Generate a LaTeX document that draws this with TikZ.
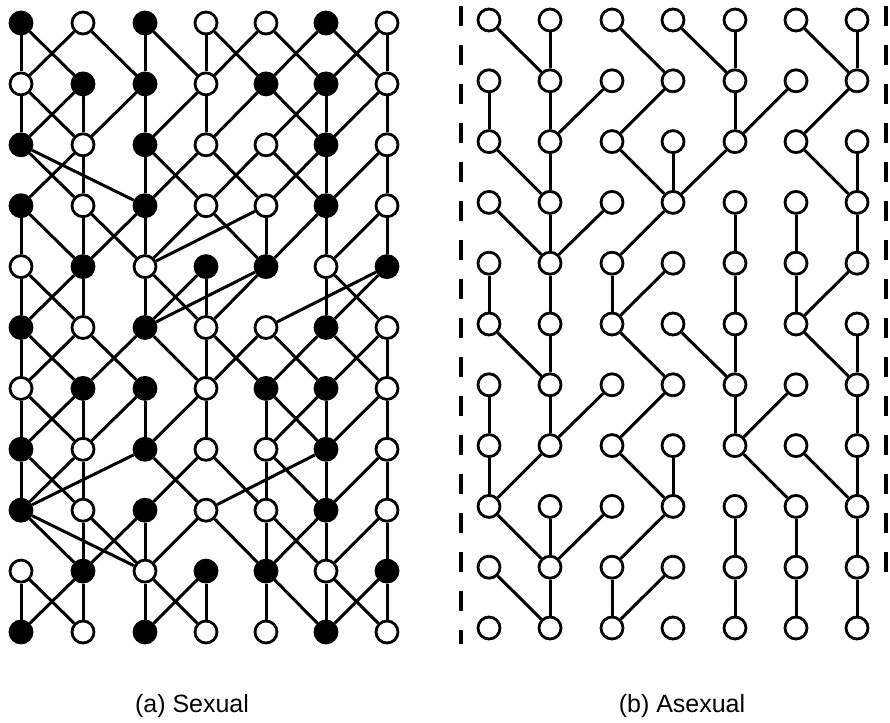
\documentclass[tikz,border=0pt]{standalone}
\usepackage{fontspec}
\setmainfont{Liberation Sans}
\begin{document}
\begin{tikzpicture}[x=1pt,y=-1pt,
  nB/.style={circle,draw=black,fill=black,line width=2.8pt,minimum size=22pt,inner sep=0pt},
  nW/.style={circle,draw=black,fill=white,line width=2.8pt,minimum size=22pt,inner sep=0pt},
  link/.style={line width=3pt},
  sep/.style={line width=3.2pt,dash pattern=on 20pt off 19pt},
  lab/.style={font=\fontsize{25}{30}\selectfont,anchor=base}]
\useasboundingbox (0,0) rectangle (890,722);
\def\LX{{21,83,145,206,266,326,387}}
\def\RX{{489,550,612,673,735,796,857}}
% left nodes
\foreach \r/\cols in {1/{B,W,B,W,W,B,W},2/{W,B,B,W,B,B,W},3/{B,W,B,W,W,B,W},4/{B,W,B,W,W,B,W},
  5/{W,B,W,B,B,W,B},6/{B,W,B,W,W,B,W},7/{W,B,B,W,B,B,W},8/{B,W,B,W,W,B,W},
  9/{B,W,B,W,W,B,W},10/{W,B,W,B,B,W,B},11/{B,W,B,W,W,B,W}}{
  \foreach \k [count=\c] in \cols {
    \pgfmathsetmacro\xx{\LX[\c-1]}
    \pgfmathsetmacro\yy{23+60.9*(\r-1)}
    \node[n\k] (L-\r-\c) at (\xx,\yy) {};
  }
}
% right nodes
\foreach \r in {1,...,11}{
  \foreach \c in {1,...,7}{
    \pgfmathsetmacro\xx{\RX[\c-1]}
    \pgfmathsetmacro\yy{20+60.8*(\r-1)}
    \node[nW] (R-\r-\c) at (\xx,\yy) {};
  }
}
% left edges
\foreach \r/\L in {
  1/{1/1,1/2,2/1,2/3,3/3,3/4,4/4,4/5,5/4,5/6,6/5,6/7,7/6,7/7},
  2/{1/1,1/2,2/1,2/2,3/2,3/3,4/3,4/4,5/4,5/6,6/5,6/6,7/6,7/7},
  3/{1/2,1/3,2/1,2/2,3/3,3/4,4/3,4/5,5/4,5/6,6/5,6/6,7/6,7/7},
  4/{1/1,1/2,2/2,2/3,3/2,3/3,4/3,4/5,5/3,5/5,6/5,6/6,7/6,7/7},
  5/{1/1,1/2,2/1,2/2,3/3,3/4,4/3,4/4,5/3,5/4,6/6,6/7,7/5,7/6},
  6/{1/1,1/2,2/1,2/3,3/2,3/4,4/4,4/5,5/4,5/6,6/5,6/7,7/6,7/7},
  7/{1/1,1/2,2/1,2/2,3/2,3/3,4/3,4/4,5/5,5/6,6/5,6/6,7/6,7/7},
  8/{1/1,1/2,2/1,2/2,3/1,3/4,4/3,4/5,5/5,5/6,6/4,6/6,7/6,7/7},
  9/{1/2,1/3,2/2,2/3,3/2,3/3,4/3,4/5,5/5,5/6,6/5,6/6,7/6,7/7},
  10/{1/1,1/2,2/1,2/2,3/3,3/4,4/3,4/4,5/5,5/6,6/6,6/7,7/6,7/7}}{
  \pgfmathtruncatemacro\rn{\r+1}
  \foreach \a/\b in \L {\draw[link] (L-\r-\a) -- (L-\rn-\b);}
}
% right edges
\foreach \r/\L in {
  1/{1/2,2/2,3/4,4/5,5/5,6/7,7/7},
  2/{1/1,2/2,3/2,4/3,5/5,6/5,7/6},
  3/{1/2,2/2,3/4,4/4,5/4,6/7,7/7},
  4/{1/2,2/2,3/2,4/3,5/5,6/6,7/7},
  5/{1/1,2/2,3/3,4/3,5/5,6/6,7/6},
  6/{1/2,2/2,3/4,4/5,5/5,6/7,7/7},
  7/{1/1,2/2,3/2,4/3,5/5,6/5,7/7},
  8/{1/1,2/1,3/4,4/4,5/6,6/7,7/7},
  9/{1/2,2/2,3/2,4/3,5/5,6/6,7/7},
  10/{1/2,2/2,3/3,4/3,5/5,6/6,7/7}}{
  \pgfmathtruncatemacro\rn{\r+1}
  \foreach \a/\b in \L {\draw[link] (R-\r-\a) -- (R-\rn-\b);}
}
% separators
\coordinate (s1a) at (461,6);
\coordinate (s1b) at (461,644);
\coordinate (s2a) at (886,6);
\coordinate (s2b) at (886,580);
\draw[sep] (s1a) -- (s1b);
\draw[sep] (s2a) -- (s2b);
% labels
\node[lab] (la) at (192,712) {(a) Sexual};
\node[lab] (lb) at (682,712) {(b) Asexual};
\end{tikzpicture}
\end{document}
